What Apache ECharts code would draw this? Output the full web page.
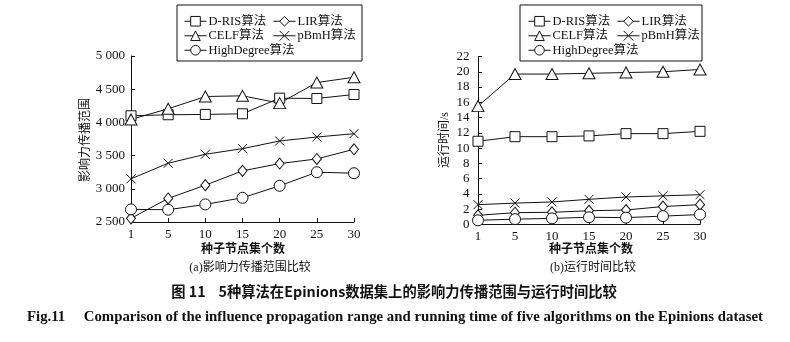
<!DOCTYPE html>
<html>
<head>
<meta charset="utf-8">
<script src="https://cdn.jsdelivr.net/npm/echarts@6/dist/echarts.min.js"></script>
<style>
  html, body { margin: 0; padding: 0; background: #fff; }
  #chart { width: 790px; height: 342px; }
</style>
</head>
<body>
<div id="chart"></div>
<script>
// Seed node set sizes (shared x axis)
const seedCounts = ['1', '5', '10', '15', '20', '25', '30'];

// (a) influence spread
const spreadDRIS = [4100, 4115, 4120, 4130, 4365, 4360, 4420];
const spreadCELF = [4045, 4205, 4390, 4400, 4290, 4600, 4680];
const spreadLIR = [2555, 2855, 3055, 3270, 3380, 3450, 3595];
const spreadPBmH = [3150, 3385, 3520, 3605, 3720, 3780, 3830];
const spreadHighDegree = [2690, 2685, 2765, 2865, 3045, 3250, 3235];

// (b) running time in seconds
const timeDRIS = [10.9, 11.5, 11.5, 11.6, 11.9, 11.9, 12.2];
const timeCELF = [15.5, 19.7, 19.7, 19.8, 19.9, 20.0, 20.3];
const timeLIR = [1.2, 1.55, 1.6, 1.8, 1.9, 2.35, 2.6];
const timePBmH = [2.6, 2.8, 2.95, 3.3, 3.6, 3.75, 3.9];
const timeHighDegree = [0.55, 0.7, 0.8, 0.95, 0.9, 1.1, 1.3];

const SERIF = '"Liberation Serif", "Times New Roman", "Noto Sans CJK SC", serif';
const CROSS = 'path://M0,0L10,10M10,0L0,10';

const markers = {
  'D-RIS算法': { symbol: 'rect', size: 10 },
  'LIR算法': { symbol: 'diamond', size: [9, 11] },
  'CELF算法': { symbol: 'triangle', size: [12, 11] },
  'pBmH算法': { symbol: CROSS, size: 9 },
  'HighDegree算法': { symbol: 'circle', size: 11 }
};

function lineSeries(name, data, idx) {
  const m = markers[name];
  return {
    name: name,
    type: 'line',
    xAxisIndex: idx,
    yAxisIndex: idx,
    data: data,
    symbol: m.symbol,
    symbolSize: m.size,
    showAllSymbol: true,
    lineStyle: { color: '#111', width: 1 },
    itemStyle: { color: '#fff', borderColor: '#111', borderWidth: 1 },
    emphasis: { disabled: true },
    animation: false
  };
}

function thousands(v) {
  if (v >= 1000) {
    const r = v % 1000;
    return Math.floor(v / 1000) + ' ' + String(r).padStart(3, '0');
  }
  return String(v);
}

function xAxis(idx) {
  return {
    type: 'category',
    gridIndex: idx,
    data: seedCounts,
    boundaryGap: false,
    axisLine: { lineStyle: { color: '#111', width: 1 } },
    axisTick: { inside: true, length: 4, lineStyle: { color: '#111' } },
    axisLabel: { color: '#111', fontFamily: SERIF, fontSize: 13, margin: 6 },
    splitLine: { show: false }
  };
}

function yAxis(idx, min, max, interval, fmt, margin) {
  return {
    type: 'value',
    gridIndex: idx,
    min: min, max: max, interval: interval,
    axisLine: { show: true, lineStyle: { color: '#111', width: 1 } },
    axisTick: { show: true, inside: true, length: 4, lineStyle: { color: '#111' } },
    axisLabel: { color: '#111', fontFamily: SERIF, fontSize: 13, margin: margin, formatter: fmt },
    splitLine: { show: false }
  };
}

function legendCol(left, top, data) {
  return {
    left: left, top: top, orient: 'vertical',
    padding: 0, itemGap: 2, itemWidth: 22, itemHeight: 12,
    selectedMode: false,
    data: data,
    itemStyle: { color: '#fff', borderColor: '#111', borderWidth: 1 },
    lineStyle: { color: '#111', width: 1 },
    textStyle: { color: '#111', fontFamily: SERIF, fontSize: 12.5, padding: [0, 0, 0, -3] }
  };
}

const text = (x, y, str, opts) => ({
  type: 'text', x: x, y: y,
  style: Object.assign({ text: str, fill: '#111', font: '12px ' + SERIF, textAlign: 'center', textVerticalAlign: 'middle' }, opts || {})
});

const chart = echarts.init(document.getElementById('chart'), null, { renderer: 'canvas' });

chart.setOption({
  animation: false,
  grid: [
    { left: 131, right: 436, top: 56, bottom: 120 },
    { left: 478, right: 90, top: 56.5, bottom: 117.5 }
  ],
  xAxis: [xAxis(0), xAxis(1)],
  yAxis: [
    yAxis(0, 2500, 5000, 500, thousands, 6),
    yAxis(1, 0, 22, 2, null, 8.5)
  ],
  legend: [
    legendCol(184, 15, ['D-RIS算法', 'CELF算法', 'HighDegree算法']),
    legendCol(273, 15, ['LIR算法', 'pBmH算法']),
    legendCol(528, 15, ['D-RIS算法', 'CELF算法', 'HighDegree算法']),
    legendCol(617, 15, ['LIR算法', 'pBmH算法'])
  ],
  series: [
    lineSeries('D-RIS算法', spreadDRIS, 0),
    lineSeries('LIR算法', spreadLIR, 0),
    lineSeries('CELF算法', spreadCELF, 0),
    lineSeries('pBmH算法', spreadPBmH, 0),
    lineSeries('HighDegree算法', spreadHighDegree, 0),
    lineSeries('D-RIS算法', timeDRIS, 1),
    lineSeries('LIR算法', timeLIR, 1),
    lineSeries('CELF算法', timeCELF, 1),
    lineSeries('pBmH算法', timePBmH, 1),
    lineSeries('HighDegree算法', timeHighDegree, 1)
  ],
  graphic: [
    // legend frames
    { type: 'rect', shape: { x: 177, y: 5, width: 185, height: 56 }, style: { fill: 'none', stroke: '#111', lineWidth: 1 } },
    { type: 'rect', shape: { x: 520, y: 5, width: 182, height: 56 }, style: { fill: 'none', stroke: '#111', lineWidth: 1 } },
    // axis names
    { type: 'text', x: 86, y: 140, rotation: Math.PI / 2,
      style: { text: '影响力传播范围', fill: '#111', font: '12px ' + SERIF, textAlign: 'center', textVerticalAlign: 'middle' } },
    { type: 'text', x: 445, y: 140, rotation: Math.PI / 2,
      style: { text: '运行时间/s', fill: '#111', font: '12px ' + SERIF, textAlign: 'center', textVerticalAlign: 'middle' } },
    text(243, 250, '种子节点集个数', { font: 'bold 12px ' + SERIF }),
    text(591, 250, '种子节点集个数', { font: 'bold 12px ' + SERIF }),
    text(250, 268, '(a)影响力传播范围比较'),
    text(593, 268, '(b)运行时间比较'),
    text(394, 292, '图 11    5种算法在Epinions数据集上的影响力传播范围与运行时间比较',
      { font: 'bold 14.3px "Noto Sans CJK SC", sans-serif' }),
    text(395, 317, 'Fig.11     Comparison of the influence propagation range and running time of five algorithms on the Epinions dataset',
      { font: 'bold 14.8px ' + SERIF })
  ]
});
</script>
</body>
</html>
